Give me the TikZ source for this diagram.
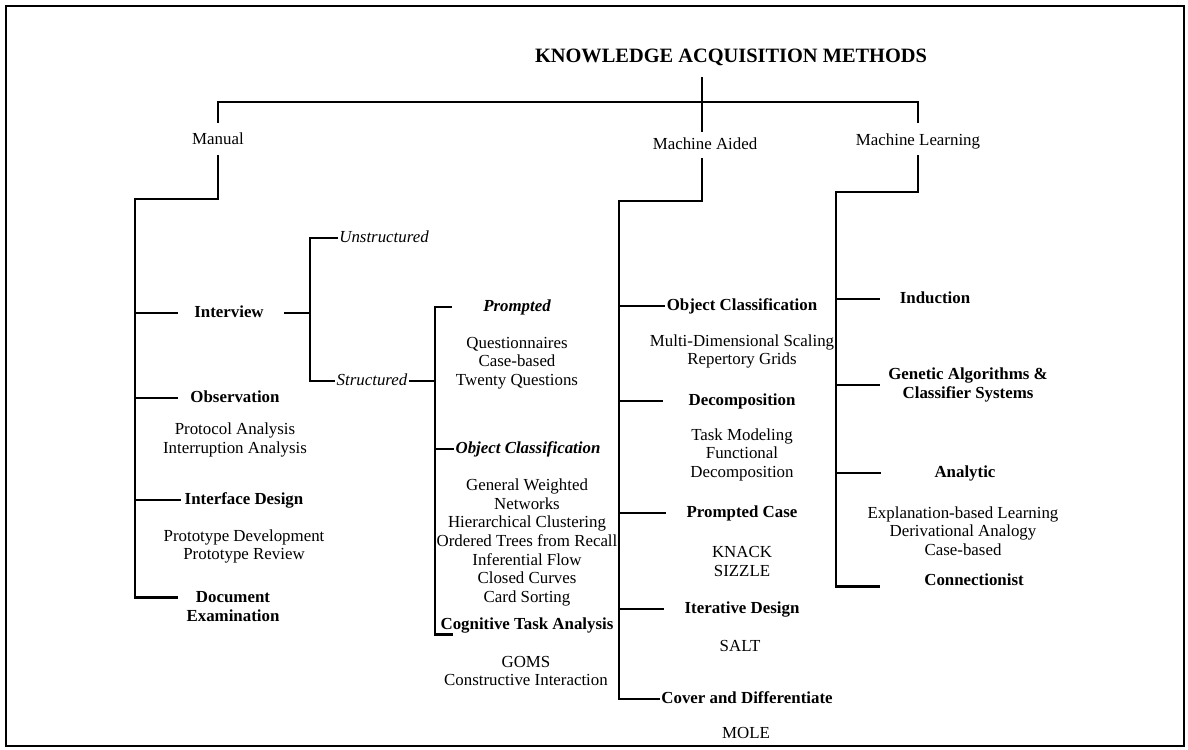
\documentclass[tikz,border=0pt]{standalone}
\usepackage{fontspec}
\setmainfont{Liberation Serif}
\begin{document}
\begin{tikzpicture}[x=0.025cm,y=-0.025cm,line width=2pt,line cap=rect,
		every node/.style={font=\fontsize{12}{13.2}\selectfont,inner sep=1pt},
		fixed/.style={text height=8.5pt,text depth=2.5pt},
		method/.style={fixed,font=\fontsize{12}{13.2}\selectfont\bfseries},
		method2/.style={align=center,font=\fontsize{12}{13.2}\selectfont\bfseries},
		mode/.style={fixed,font=\fontsize{12}{13.2}\selectfont\itshape},
		modehead/.style={fixed,font=\fontsize{12}{13.2}\selectfont\bfseries\itshape},
		tools/.style={align=center,inner sep=0pt}]
			\useasboundingbox (0,0) rectangle (1188,749);
			\draw[line width=1.5pt] (6,6) rectangle (1184,746);

			% TOP
			\node[font=\fontsize{14.5}{16}\selectfont\bfseries] (title) at (731,57) {KNOWLEDGE ACQUISITION METHODS};
			\node[fixed] (manual) at (218,140) {Manual};
			\node[fixed] (aided) at (705,145) {Machine Aided};
			\node[fixed] (mlearn) at (918,141) {Machine Learning};
			\coordinate (bar) at (702,102);
			\draw[shorten <=7pt,shorten >=3pt] (title.south -| bar) -- (aided.north -| bar);
			\draw[shorten <=5.7pt,shorten >=6.4pt] (manual.north) |- (bar) -| (mlearn.north);

			% MANUAL
			\coordinate (mspine) at (135,199);
			\draw[shorten <=4pt] (manual.south) |- (mspine);
			\node[method] (interview) at (229,313) {Interview};
			\node[method] (observ) at (235,398) {Observation};
			\node[tools] (protocol) at (235,440) {Protocol Analysis\\Interruption Analysis};
			\node[method] (interface) at (244,500) {Interface Design};
			\node[tools] (prototype) at (244,546.5) {Prototype Development\\Prototype Review};
			\node[method2] (docu) at (233,606.5) {Document\\Examination};
			\draw[shorten >=10.5pt] (mspine) |- (interview.west);
			\draw[shorten >=8pt] (mspine) |- (observ.west);
			\draw[shorten >=2pt] (mspine) |- (interface.west);
			\draw[shorten >=5pt] (mspine) |- ([yshift=6.6pt]docu.west);

			% INTERVIEW
			\coordinate (ispine) at (310,313);
			\node[mode] (unstr) at (384,238) {Unstructured};
			\node[mode] (struc) at (372,381) {Structured};
			\draw[shorten <=13.5pt] (interview.east) -- (ispine);
			\draw (ispine) |- (unstr.west);
			\draw (ispine) |- (struc.west);

			% STRUCTURED
			\coordinate (sspine) at (435,381);
			\draw (struc.east) -- (sspine);
			\node[modehead] (prompted) at (517,307) {Prompted};
			\node[tools] (questions) at (517,363) {Questionnaires\\Case-based\\Twenty Questions};
			\node[modehead] (oclass) at (528,449) {Object Classification};
			\node[tools] (sorting) at (527,542.5) {General Weighted\\Networks\\Hierarchical Clustering\\Ordered Trees from Recall\\Inferential Flow\\Closed Curves\\Card Sorting};
			\node[method] (cogn) at (527,625) {Cognitive Task Analysis};
			\node[tools] (goms) at (526,671) {GOMS\\Constructive Interaction};
			\draw[shorten >=21pt] (sspine) |- (prompted.west);
			\draw (sspine) |- (oclass.west);
			\draw[shorten >=-9.5pt] (sspine) |- ([yshift=-7pt]cogn.west);

			% MACHINE AIDED
			\coordinate (aspine) at (619,201);
			\draw[shorten <=3pt] (aided.south -| bar) |- (aspine);
			\node[method] (aoclass) at (742,306) {Object Classification};
			\node[tools] (scaling) at (742,351.5) {Multi-Dimensional Scaling\\Repertory Grids};
			\node[method] (decomp) at (742,401) {Decomposition};
			\node[tools] (modeling) at (742,454.5) {Task Modeling\\Functional\\Decomposition};
			\node[method] (pcase) at (742,513) {Prompted Case};
			\node[tools] (knack) at (742,561.5) {KNACK\\SIZZLE};
			\node[method] (idesign) at (742,609) {Iterative Design};
			\node[tools] (salt) at (740,646) {SALT};
			\node[method] (cover) at (747,699) {Cover and Differentiate};
			\node[tools] (mole) at (746,733) {MOLE};
			\draw (aspine) |- (aoclass.west);
			\draw[shorten >=17pt] (aspine) |- (decomp.west);
			\draw[shorten >=14pt] (aspine) |- (pcase.west);
			\draw[shorten >=14pt] (aspine) |- (idesign.west);
			\draw (aspine) |- (cover.west);

			% MACHINE LEARNING
			\coordinate (lspine) at (836,192);
			\draw[shorten <=3.5pt] (mlearn.south) |- (lspine);
			\node[method] (induct) at (935,299) {Induction};
			\node[method2] (genetic) at (968,385) {Genetic Algorithms \&\\Classifier Systems};
			\node[method] (analytic) at (965,473) {Analytic};
			\node[tools] (explain) at (963,531) {Explanation-based Learning\\Derivational Analogy\\Case-based};
			\node[method] (connect) at (974,581) {Connectionist};
			\draw[shorten >=13pt] (lspine) |- (induct.west);
			\draw[shorten >=5pt] (lspine) |- (genetic.west);
			\draw[shorten >=37pt] (lspine) |- (analytic.west);
			\draw[shorten >=30.5pt] (lspine) |- ([yshift=-4pt]connect.west);
\end{tikzpicture}
\end{document}
